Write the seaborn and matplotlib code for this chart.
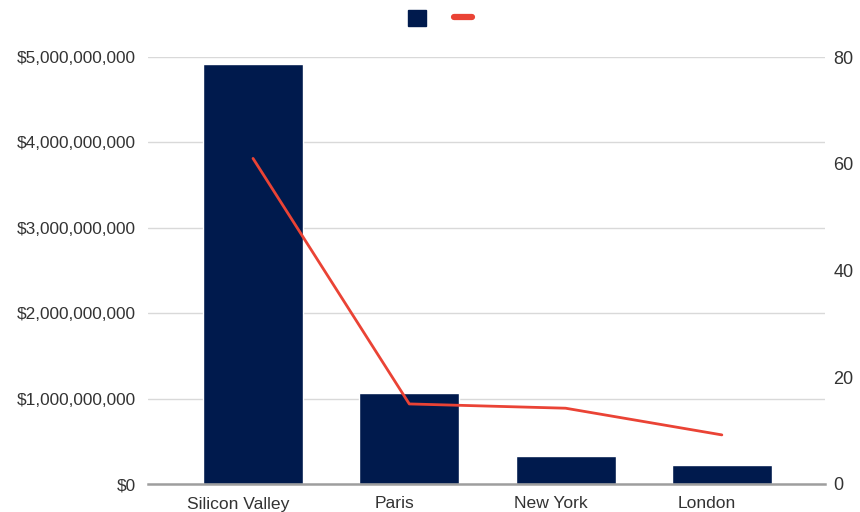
import matplotlib
matplotlib.use("Agg")
import matplotlib.pyplot as plt
import matplotlib.transforms as mtransforms
from matplotlib.patches import Patch
from matplotlib.lines import Line2D
from matplotlib.ticker import FuncFormatter
import seaborn as sns
import pandas as pd

cities = ["Silicon Valley", "Paris", "New York", "London"]
funding = [4.92e9, 1.065e9, 0.33e9, 0.22e9]
count = [61, 15, 14.2, 9.2]

bar_color = "#001a4d"
line_color = "#ea4335"

sns.set_style("white")
plt.rcParams["font.family"] = ["Liberation Sans", "DejaVu Sans"]

df = pd.DataFrame({"city": cities, "funding": funding, "count": count})

fig = plt.figure(figsize=(8.6, 5.12), dpi=100)
ax = fig.add_axes([148 / 860, 1 - 484 / 512, (825 - 148) / 860, (484 - 57) / 512])

sns.barplot(data=df, x="city", y="funding", color=bar_color, width=0.64,
            saturation=1, ax=ax, zorder=2)
ax.set_ylim(0, 5e9)
ax.set_yticks([0, 1e9, 2e9, 3e9, 4e9, 5e9])
ax.yaxis.set_major_formatter(FuncFormatter(lambda v, p: f"${v:,.0f}"))
ax.set_xlim(-0.672, 3.66)
ax.grid(axis="y", color="#d9d9d9", linewidth=1, zorder=0)
ax.set_xlabel("")
ax.set_ylabel("")
for s in ["top", "left", "right"]:
    ax.spines[s].set_visible(False)
ax.spines["bottom"].set_color("#9e9e9e")
ax.spines["bottom"].set_linewidth(1.8)
ax.tick_params(axis="y", length=0, labelsize=12.4, colors="#333333", pad=9)
ax.tick_params(axis="x", length=0, labelsize=12.6, colors="#333333", pad=9)

# category labels sit a little left of the bar centres in the original
shift = mtransforms.ScaledTranslation(-15 / 100, 0, fig.dpi_scale_trans)
for lab in ax.get_xticklabels():
    lab.set_transform(lab.get_transform() + shift)

ax2 = ax.twinx()
sns.lineplot(x=list(range(len(cities))), y=count, color=line_color,
             linewidth=2, ax=ax2)
ax2.set_ylim(0, 80)
ax2.set_yticks([0, 20, 40, 60, 80])
ax2.set_xlim(-0.672, 3.66)
for s in ["top", "left", "right", "bottom"]:
    ax2.spines[s].set_visible(False)
ax2.tick_params(axis="y", length=0, labelsize=13, colors="#333333", pad=6)

handles = [Patch(facecolor=bar_color, edgecolor=bar_color),
           Line2D([0], [0], color=line_color, linewidth=4.5)]
fig.legend(handles=handles, labels=["", ""], loc="center",
           bbox_to_anchor=(440 / 860, 1 - 19 / 512), ncol=2, frameon=False,
           fontsize=13, handlelength=1.0, handleheight=1.0,
           columnspacing=1.5, handletextpad=0.0)

fig.savefig("out.png", dpi=100)
plt.close(fig)
